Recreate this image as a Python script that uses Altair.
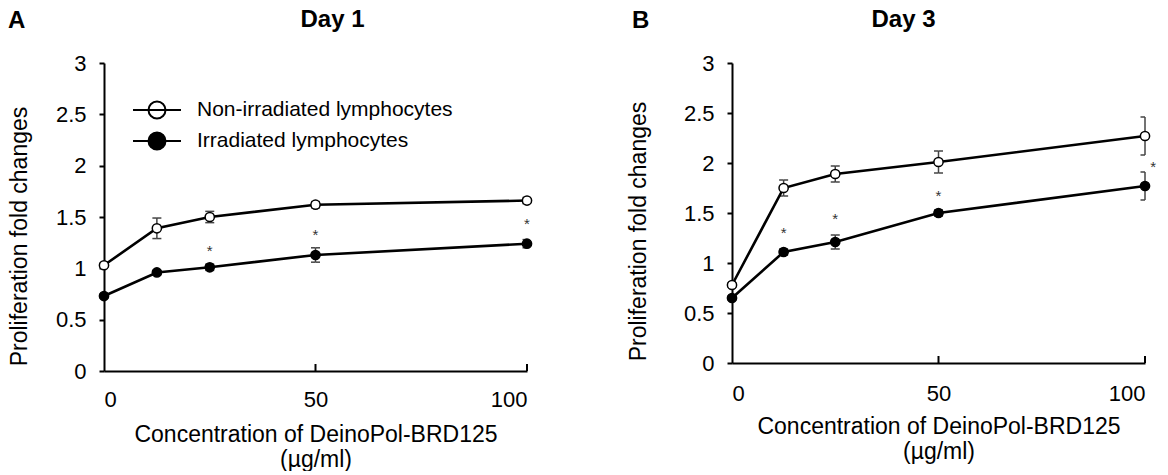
import altair as alt
import pandas as pd

# ---------------- data ----------------
conc = [0, 12.5, 25, 50, 100]
series_names = ["Non-irradiated lymphocytes", "Irradiated lymphocytes"]

# Day 1
d1_non = [1.03, 1.39, 1.50, 1.62, 1.66]
d1_non_err = [0.02, 0.10, 0.055, 0.03, 0.03]
d1_irr = [0.73, 0.96, 1.01, 1.13, 1.24]
d1_irr_err = [0.02, 0.02, 0.03, 0.07, 0.04]
d1_star_x = [25, 50, 100]
d1_star_y = [1.21, 1.36, 1.47]

# Day 3
d3_non = [0.78, 1.75, 1.89, 2.01, 2.27]
d3_non_err = [0.02, 0.08, 0.08, 0.11, 0.19]
d3_irr = [0.65, 1.11, 1.21, 1.50, 1.77]
d3_irr_err = [0.02, 0.03, 0.07, 0.03, 0.14]
d3_star_x = [12.5, 25, 50, 102]
d3_star_y = [1.34, 1.48, 1.715, 2.0]

x_ticks = [0, 50, 100]
x_inner_ticks = [50, 100]
y_ticks = [0, 0.5, 1, 1.5, 2, 2.5, 3]
x_title = ["Concentration of DeinoPol-BRD125", "(\u00b5g/ml)"]
y_title = "Proliferation fold changes"

FONT = "Liberation Sans"
ERR = "#444444"
LEGEND_PATH = "M-1.41,0H1.41M-0.5,0A0.5,0.5,0,1,1,0.5,0A0.5,0.5,0,1,1,-0.5,0Z"


def long_df(non, non_err, irr, irr_err):
    rows = []
    for name, vals, errs in ((series_names[0], non, non_err), (series_names[1], irr, irr_err)):
        for c, v, e in zip(conc, vals, errs):
            rows.append({"conc": c, "value": v, "lo": v - e, "hi": v + e, "series": name})
    return pd.DataFrame(rows)


def panel(non, non_err, irr, irr_err, sx, sy, w, h, title, tdx,
          letter, lx, ytx, yty, lab_pad, legend):
    df = long_df(non, non_err, irr, irr_err)
    caps = pd.concat([
        df[["conc", "series"]].assign(cap=df["lo"]),
        df[["conc", "series"]].assign(cap=df["hi"]),
    ], ignore_index=True)
    stars = pd.DataFrame({"conc": sx, "value": sy})
    ticks = pd.DataFrame({"t": x_inner_ticks})
    letters = pd.DataFrame({"label": [letter]})
    titles = pd.DataFrame({"label": [title]})

    xscale = alt.Scale(domain=[0, 100], nice=False, zero=False)
    yscale = alt.Scale(domain=[0, 3], nice=False)
    xaxis = alt.Axis(values=x_ticks, tickSize=0, labelPadding=lab_pad,
                     labelFont=FONT, labelFontSize=22, labelColor="black",
                     domainColor="black", domainWidth=2, grid=False,
                     title=x_title, titleFont=FONT, titleFontSize=23,
                     titleFontWeight="normal", titleColor="black",
                     titleY=70, titleBaseline="alphabetic", titleLineHeight=25)
    yaxis = alt.Axis(values=y_ticks, format="~g", tickSize=5, tickWidth=2,
                     tickColor="black", labelPadding=13, labelFont=FONT,
                     labelFontSize=22, labelColor="black", domainColor="black",
                     domainWidth=2, grid=False, title=y_title, titleFont=FONT,
                     titleFontSize=23, titleFontWeight="normal", titleColor="black",
                     titleAngle=270, titleX=ytx, titleY=yty,
                     titleBaseline="alphabetic", titleAlign="center")

    def X(f):
        return alt.X(f, scale=xscale, axis=xaxis)

    def Y(f):
        return alt.Y(f, scale=yscale, axis=yaxis)

    err = alt.Chart(df).mark_rule(color=ERR, strokeWidth=1.5).encode(
        x=X("conc:Q"), y=Y("lo:Q"), y2="hi:Q")
    cap_l = alt.Chart(caps).mark_rule(color=ERR, strokeWidth=1.5, xOffset=-4.5, x2Offset=0).encode(
        x=X("conc:Q"), x2="conc:Q", y=Y("cap:Q"))
    cap_r = alt.Chart(caps).transform_filter("datum.conc < 100").mark_rule(
        color=ERR, strokeWidth=1.5, xOffset=0, x2Offset=4.5).encode(
        x=X("conc:Q"), x2="conc:Q", y=Y("cap:Q"))
    line = alt.Chart(df).mark_line(color="black", strokeWidth=2.6).encode(
        x=X("conc:Q"), y=Y("value:Q"), detail="series:N")
    fill_kw = dict(scale=alt.Scale(domain=series_names, range=["white", "black"]))
    if legend:
        leg = alt.Legend(title=None, orient="none", legendX=35, legendY=29,
                         direction="vertical", symbolType=LEGEND_PATH,
                         symbolSize=1156, symbolStrokeColor="black",
                         symbolStrokeWidth=2, symbolOpacity=1, labelFont=FONT,
                         labelFontSize=21, labelColor="black", labelOffset=22,
                         rowPadding=0, padding=0, labelLimit=0)
        fill = alt.Fill("series:N", legend=leg, **fill_kw)
    else:
        fill = alt.Fill("series:N", legend=None, **fill_kw)
    pts = alt.Chart(df).mark_circle(size=85, stroke="black", strokeWidth=1.5, opacity=1).encode(
        x=X("conc:Q"), y=Y("value:Q"), fill=fill)
    star = alt.Chart(stars).mark_text(text="*", font=FONT, fontSize=15, color="#333333",
                                      baseline="middle", dy=4).encode(
        x=X("conc:Q"), y=Y("value:Q"))
    tick = alt.Chart(ticks).mark_rule(color="black", strokeWidth=2).encode(
        x=X("t:Q"), y=alt.value(h), y2=alt.value(h - 7))
    let = alt.Chart(letters).mark_text(font=FONT, fontSize=24, fontWeight="bold",
                                       align="left", baseline="alphabetic",
                                       color="black").encode(
        text="label:N", x=alt.value(lx), y=alt.value(-35))
    ttl = alt.Chart(titles).mark_text(font=FONT, fontSize=24, fontWeight="bold",
                                      align="center", baseline="alphabetic",
                                      color="black").encode(
        text="label:N", x=alt.value(w / 2 + tdx), y=alt.value(-36))

    return alt.layer(err, cap_l, cap_r, line, pts, star, tick, let, ttl).properties(
        width=w, height=h)


pa = panel(d1_non, d1_non_err, d1_irr, d1_irr_err, d1_star_x, d1_star_y,
           423, 308, "Day 1", 17, "A", -96, -78, 173, 18, True)
pb = panel(d3_non, d3_non_err, d3_irr, d3_irr_err, d3_star_x, d3_star_y,
           413, 300, "Day 3", -35, "B", -100, -87, 168, 20, False)

chart = alt.hconcat(pa, pb, spacing=92).resolve_scale(fill="independent").properties(
    padding=0, background="white").configure_view(stroke=None)

chart.save("out.html", embed_options={"renderer": "svg", "actions": False})
